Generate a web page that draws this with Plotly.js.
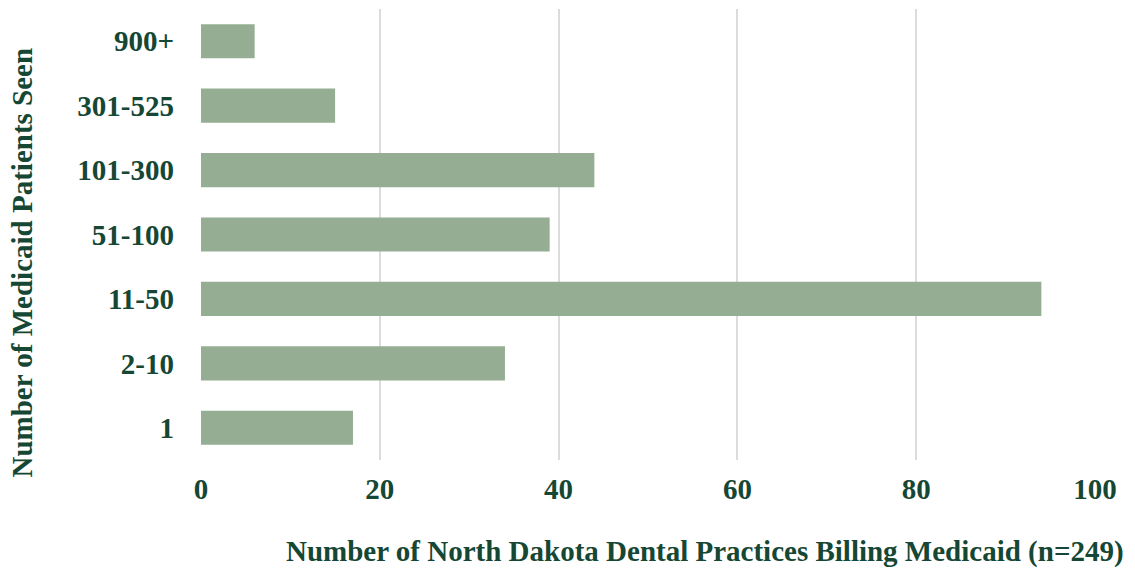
<!DOCTYPE html>
<html>
<head>
<meta charset="utf-8">
<script src="https://cdn.plot.ly/plotly-3.0.1.min.js"></script>
<style>html,body{margin:0;padding:0;background:#fff;}#chart{width:1135px;height:569px;}</style>
</head>
<body>
<div id="chart"></div>
<script>
const categories = ["1", "2-10", "11-50", "51-100", "101-300", "301-525", "900+"];
const practices = [17, 34, 94, 39, 44, 15, 6];
const xTicks = [0, 20, 40, 60, 80, 100];
const xTitle = "Number of North Dakota Dental Practices Billing Medicaid (n=249)";
const yTitle = "Number of Medicaid Patients Seen";

const textColor = "#154734";
const fontFam = "Liberation Serif, Times New Roman, serif";

Plotly.newPlot("chart", [{
  type: "bar",
  orientation: "h",
  y: categories,
  x: practices,
  marker: {color: "#95ae93"},
  hoverinfo: "x+y"
}], {
  width: 1135, height: 569,
  margin: {l: 201, r: 40, t: 9, b: 109},
  paper_bgcolor: "#fff", plot_bgcolor: "#fff",
  bargap: 0.47,
  font: {family: fontFam, color: textColor, size: 29, weight: "bold"},
  xaxis: {
    range: [0, 100], tickvals: xTicks, ticktext: xTicks.map(String),
    showgrid: true, gridcolor: "#dcdcdc", gridwidth: 2,
    zeroline: false, showline: false, ticks: "",
    tickfont: {family: fontFam, size: 29, color: textColor, weight: "bold"},
    ticklabelstandoff: 9,
    fixedrange: true
  },
  yaxis: {
    type: "category", categoryorder: "array", categoryarray: categories,
    showgrid: false, zeroline: false, showline: false, ticks: "",
    tickfont: {family: fontFam, size: 29, color: textColor, weight: "bold"},
    ticklabelstandoff: 26,
    fixedrange: true
  },
  annotations: [
    {text: "<b>" + xTitle + "</b>", xref: "paper", yref: "paper",
     x: 0.5632, y: -0.203, xanchor: "center", yanchor: "middle", showarrow: false,
     font: {family: fontFam, size: 29, color: textColor}},
    {text: "<b>" + yTitle + "</b>", xref: "paper", yref: "paper", textangle: -90,
     x: -0.2002, y: 0.438, xanchor: "center", yanchor: "middle", showarrow: false,
     font: {family: fontFam, size: 29, color: textColor}}
  ],
  showlegend: false
}, {displayModeBar: false, staticPlot: true});
</script>
</body>
</html>
